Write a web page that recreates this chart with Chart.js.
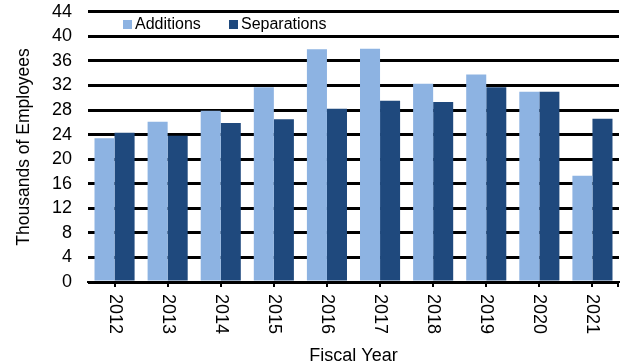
<!DOCTYPE html>
<html>
<head>
<meta charset="utf-8">
<script src="https://cdn.jsdelivr.net/npm/chart.js@4.4.0/dist/chart.umd.min.js"></script>
<style>
  html, body { margin: 0; padding: 0; background: #fff; }
  #wrap { width: 621px; height: 364px; }
</style>
</head>
<body>
<div id="wrap"><canvas id="myChart" width="621" height="364"></canvas></div>
<script>
// Workforce additions vs separations by fiscal year (thousands)
const years = ['2012', '2013', '2014', '2015', '2016', '2017', '2018', '2019', '2020', '2021'];
const additions = [23.4, 26.1, 27.9, 31.7, 37.9, 38.0, 32.3, 33.8, 31.0, 17.3];
const separations = [24.3, 23.8, 25.9, 26.5, 28.2, 29.5, 29.3, 31.7, 31.0, 26.6];
const yMax = 44;
const yStep = 4;

const FONT = '"Liberation Sans", Arial, sans-serif';
const LIGHT = '#8DB3E2';
const DARK = '#1F497D';

// years are written top-to-bottom under each category
const verticalLabels = {
  id: 'verticalLabels',
  afterDraw(chart) {
    const ctx = chart.ctx;
    const x = chart.scales.x;
    ctx.save();
    ctx.font = '18px ' + FONT;
    ctx.fillStyle = '#000';
    ctx.textAlign = 'left';
    ctx.textBaseline = 'middle';
    years.forEach((label, i) => {
      const px = x.getPixelForTick(i);
      ctx.save();
      ctx.translate(px, x.top + 12);
      ctx.rotate(Math.PI / 2);
      ctx.fillText(label, 0, 0);
      ctx.restore();
    });
    // closing tick at the right end of the axis
    ctx.strokeStyle = '#000';
    ctx.lineWidth = 2;
    ctx.beginPath();
    ctx.moveTo(x.right - 1, x.top);
    ctx.lineTo(x.right - 1, x.top + 5);
    ctx.stroke();
    ctx.restore();
  }
};

// legend sits inside the plot, between the two top gridlines
const innerLegend = {
  id: 'innerLegend',
  afterDraw(chart) {
    const ctx = chart.ctx;
    const slots = [123, 229];
    ctx.save();
    ctx.font = '16px ' + FONT;
    ctx.textBaseline = 'middle';
    ctx.textAlign = 'left';
    chart.data.datasets.forEach((ds, i) => {
      const x0 = slots[i];
      ctx.fillStyle = ds.backgroundColor;
      ctx.fillRect(x0, 20, 9, 9);
      ctx.fillStyle = '#000';
      ctx.fillText(ds.label, x0 + 12, 25);
    });
    ctx.restore();
  }
};

new Chart(document.getElementById('myChart'), {
  type: 'bar',
  data: {
    labels: years,
    datasets: [
      { label: 'Additions', data: additions, backgroundColor: LIGHT },
      { label: 'Separations', data: separations, backgroundColor: DARK }
    ]
  },
  options: {
    responsive: false,
    animation: false,
    layout: { padding: { top: 0, right: 2, left: 0, bottom: 0 } },
    datasets: { bar: { categoryPercentage: 0.755, barPercentage: 1.0 } },
    plugins: {
      legend: { display: false },
      tooltip: { enabled: false }
    },
    scales: {
      x: {
        ticks: { display: false },
        grid: { display: true, drawOnChartArea: false, offset: false, color: '#000', lineWidth: 2, tickLength: 5 },
        border: { display: true, color: '#000', width: 2 },
        title: { display: true, text: 'Fiscal Year', color: '#000', font: { family: FONT, size: 18 }, padding: { top: 0, bottom: -3 } },
        afterFit(scale) { scale.height = 82; }
      },
      y: {
        min: 0,
        max: yMax,
        ticks: { stepSize: yStep, autoSkip: false, color: '#000', padding: 1, font: { family: FONT, size: 18 } },
        // invisible tick marks keep the labels clear of the plot edge
        grid: { color: '#000', lineWidth: 3, drawTicks: true, tickLength: 15, tickColor: 'rgba(0,0,0,0)' },
        border: { display: false },
        title: { display: true, text: 'Thousands of Employees', color: '#000', font: { family: FONT, size: 17.5 }, padding: { top: 14, bottom: 0 } },
        afterFit(scale) { scale.width = 88; }
      }
    }
  },
  plugins: [verticalLabels, innerLegend]
});
</script>
</body>
</html>
